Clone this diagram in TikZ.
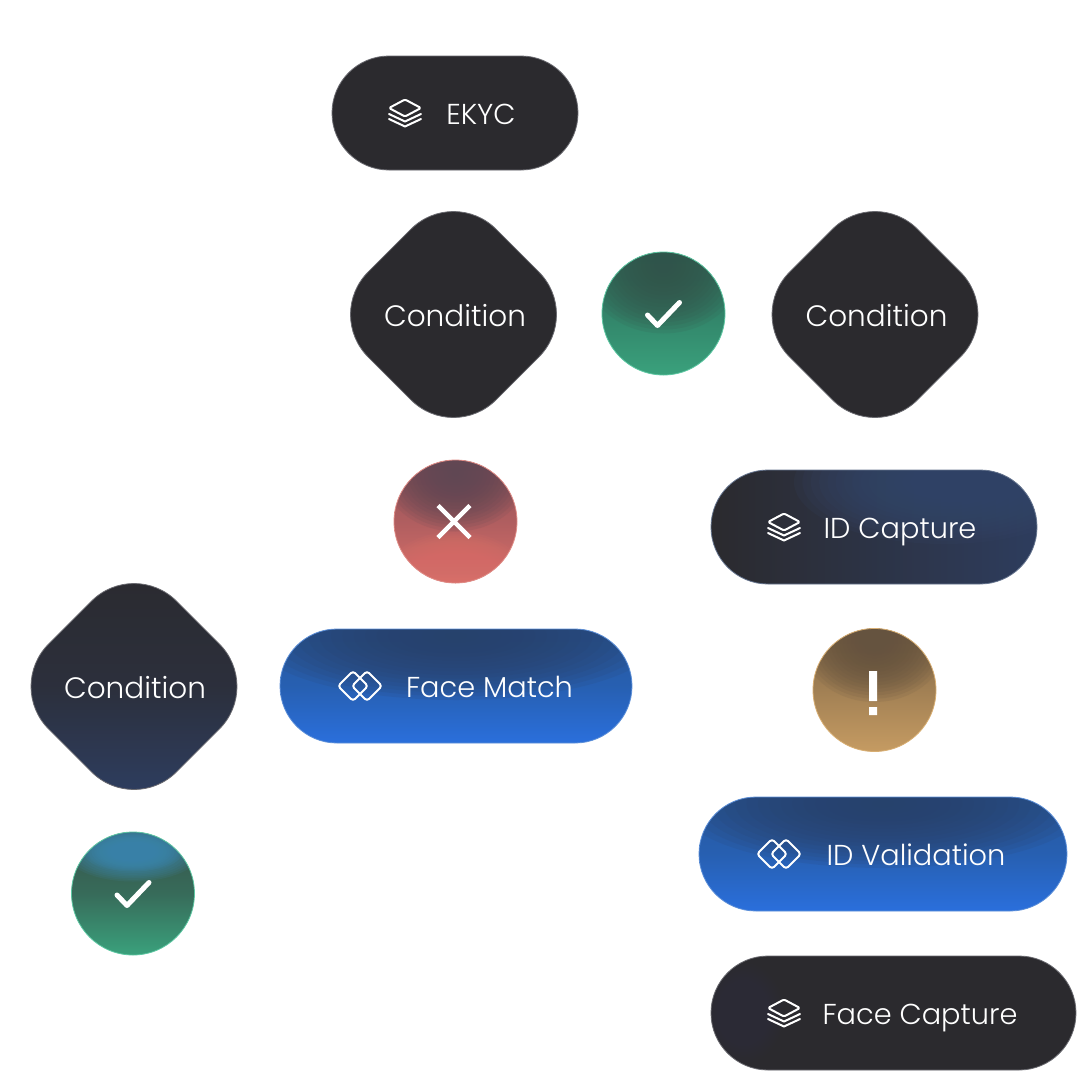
\documentclass[tikz,border=0pt]{standalone}
\usepackage{fontspec}
\setmainfont{Poppins}[UprightFont=* Light]
\usetikzlibrary{
  shapes.geometric, shapes.misc, backgrounds,
}
\definecolor{cInk}      {HTML}{2B2A2E}
\definecolor{cRimDark}  {HTML}{6A6A70}
\definecolor{cRimBlue}  {HTML}{5C8FD8}
\definecolor{cRimGreen} {HTML}{5CC7A2}
\definecolor{cRimRed}   {HTML}{E08C86}
\definecolor{cRimGold}  {HTML}{D8AE72}
\definecolor{cWire}     {HTML}{F1F1F2}
\definecolor{cBlueTop}  {HTML}{26599F}
\definecolor{cBlueDeep} {HTML}{2D426B}
\definecolor{cBlueLow}  {HTML}{2A6FDC}
\definecolor{cNavy}     {HTML}{2E4066}
\definecolor{cOkTop}    {HTML}{2F7A63}
\definecolor{cOkDeep}   {HTML}{36544B}
\definecolor{cOkLow}    {HTML}{3AA17C}
\definecolor{cOkSky}    {HTML}{3F87AE}
\definecolor{cNoTop}    {HTML}{8E5058}
\definecolor{cNoDeep}   {HTML}{5F4753}
\definecolor{cNoLow}    {HTML}{D96F69}
\definecolor{cWarnTop}  {HTML}{7E6546}
\definecolor{cWarnDeep} {HTML}{65533F}
\definecolor{cWarnLow}  {HTML}{C59B62}
\newcommand{\glow}[5]{\foreach \s in {1,...,18}{
  \fill[#1, opacity=.13] ([shift={(#2,#3)}]path picture bounding box.center)
    ellipse [x radius={#4*\s/18}, y radius={#5*\s/18}];}}
\tikzset{
  lbl/.style={font=\fontsize{29.5}{35}\selectfont, text=white, text height=23pt, text depth=0pt},
  pill/.style={rounded rectangle, minimum height=114pt, inner sep=0pt, lbl,
    font=\fontsize{28.8}{35}\selectfont, line width=.8pt},
  rhomb/.style={diamond, minimum width=256pt, minimum height=256pt, inner sep=0pt,
    rounded corners=60pt, lbl, line width=.8pt},
  badge/.style={circle, minimum size=123pt, inner sep=0pt, line width=.8pt},
  darknode/.style={fill=cInk, draw=cRimDark},
  bluenode/.style={top color=cBlueTop, bottom color=cBlueLow, middle color=cBlueTop!70!cBlueLow, draw=cRimBlue,
    path picture={\glow{cBlueDeep}{0}{-50}{205}{64}}},
  wire/.style={draw=cWire, line width=1pt},
  iconline/.style={draw=white, line width=2pt, line join=round, line cap=round},
  layers/.pic={
    \draw[iconline, rounded corners=1.5pt] (0,-13.5) -- (16,-5) -- (0,3.5) -- (-16,-5) -- cycle;
    \draw[iconline] (-16,1) -- (0,8.5) -- (16,1);
    \draw[iconline] (-16,6) -- (0,13.5) -- (16,6);
  },
  links/.pic={
    \draw[iconline, rounded corners=3pt] (-22,0) -- (-7,-15) -- (8,0) -- (-7,15) -- cycle;
    \draw[iconline, rounded corners=3pt] (-8,0) -- (7,-15) -- (22,0) -- (7,15) -- cycle;
  },
  tick/.pic={\draw[line width=5pt, draw=white, line cap=round, line join=round] (-16,1.5) -- (-6,12) -- (16,-11);},
  cross/.pic={\draw[line width=4.5pt, draw=white] (-16,-16) -- (16,16) (-16,16) -- (16,-16);},
  bang/.pic={\fill[white] (-5.5,-19) rectangle (2.5,11) (-5.5,17) rectangle (2.5,25);},
}

\begin{document}
\begin{tikzpicture}[x=1pt, y=-1pt]
  \useasboundingbox[fill=white] (0,0) rectangle (1080,1080);

  \node[pill, darknode, minimum width=246pt] (ekyc) at (455,113) {\hspace*{52pt}EKYC};
  \node[rhomb, darknode] (condA) at (453.5,314.5) {\hspace*{3pt}Condition};
  \node[rhomb, darknode] (condB) at (875,314.5) {\hspace*{3pt}Condition};
  \node[rhomb, top color=cInk, bottom color=cNavy, middle color=cInk!75!cNavy, draw=cRimDark] (condC) at (134,686.5) {\hspace*{2pt}Condition};

  \node[badge, top color=cOkTop, bottom color=cOkLow, middle color=cOkTop!75!cOkLow, draw=cRimGreen,
    path picture={\glow{cOkDeep}{0}{-48}{80}{68}}] (okA) at (663.5,313.5) {};
  \node[badge, top color=cNoTop, bottom color=cNoLow, middle color=cNoTop!55!cNoLow, draw=cRimRed,
    path picture={\glow{cNoDeep}{0}{-48}{72}{58}\glow{cNoLow}{0}{48}{65}{38}}] (deny) at (455.5,521.5) {};
  \node[badge, top color=cWarnTop, bottom color=cWarnLow, draw=cRimGold,
    path picture={\glow{cWarnDeep}{0}{-48}{72}{60}}] (warn) at (874.5,690) {};
  \node[badge, top color=cOkDeep, bottom color=cOkLow, middle color=cOkDeep!70!cOkLow, draw=cRimGreen,
    path picture={\glow{cOkSky}{0}{-42}{68}{30}\glow{cOkSky}{0}{-42}{50}{20}}] (okB) at (133,893.5) {};

  \node[pill, left color=cInk, right color=cNavy!85!cInk, draw=cRimDark!70!cRimBlue, minimum width=326pt,
    path picture={\glow{cNavy!96!white}{70}{-45}{150}{62}}] (idcap) at (874,527) {\hspace*{52pt}ID Capture};
  \node[pill, bluenode, minimum width=352pt] (match) at (456,686) {\hspace*{67pt}Face Match};
  \node[pill, bluenode, minimum width=368pt] (idval) at (883,854) {\hspace*{66pt}ID Validation};
  \node[pill, darknode, minimum width=365pt,
    path picture={\glow{cNavy!25!cInk}{-150}{0}{40}{50}}] (facecap) at (893.5,1013) {\hspace*{53pt}Face Capture};

  \pic at ([xshift=-50]ekyc.center) {layers};
  \pic at ([xshift=-90]idcap.center) {layers};
  \pic at ([xshift=-109.5]facecap.center) {layers};
  \pic at ([xshift=-96]match.center) {links};
  \pic at ([xshift=-104]idval.center) {links};
  \pic at (okA.center) {tick};
  \pic at (okB.center) {tick};
  \pic at ([xshift=-1.5]deny.center) {cross};
  \pic at (warn.center) {bang};

  \begin{scope}[on background layer]
    \draw[wire] (ekyc) -- (condA);
    \draw[wire] (condA) -- (deny);
    \draw[wire] (deny) -- (match);
    \draw[wire] (condC) -- (okB);
  \end{scope}
\end{tikzpicture}
\end{document}
